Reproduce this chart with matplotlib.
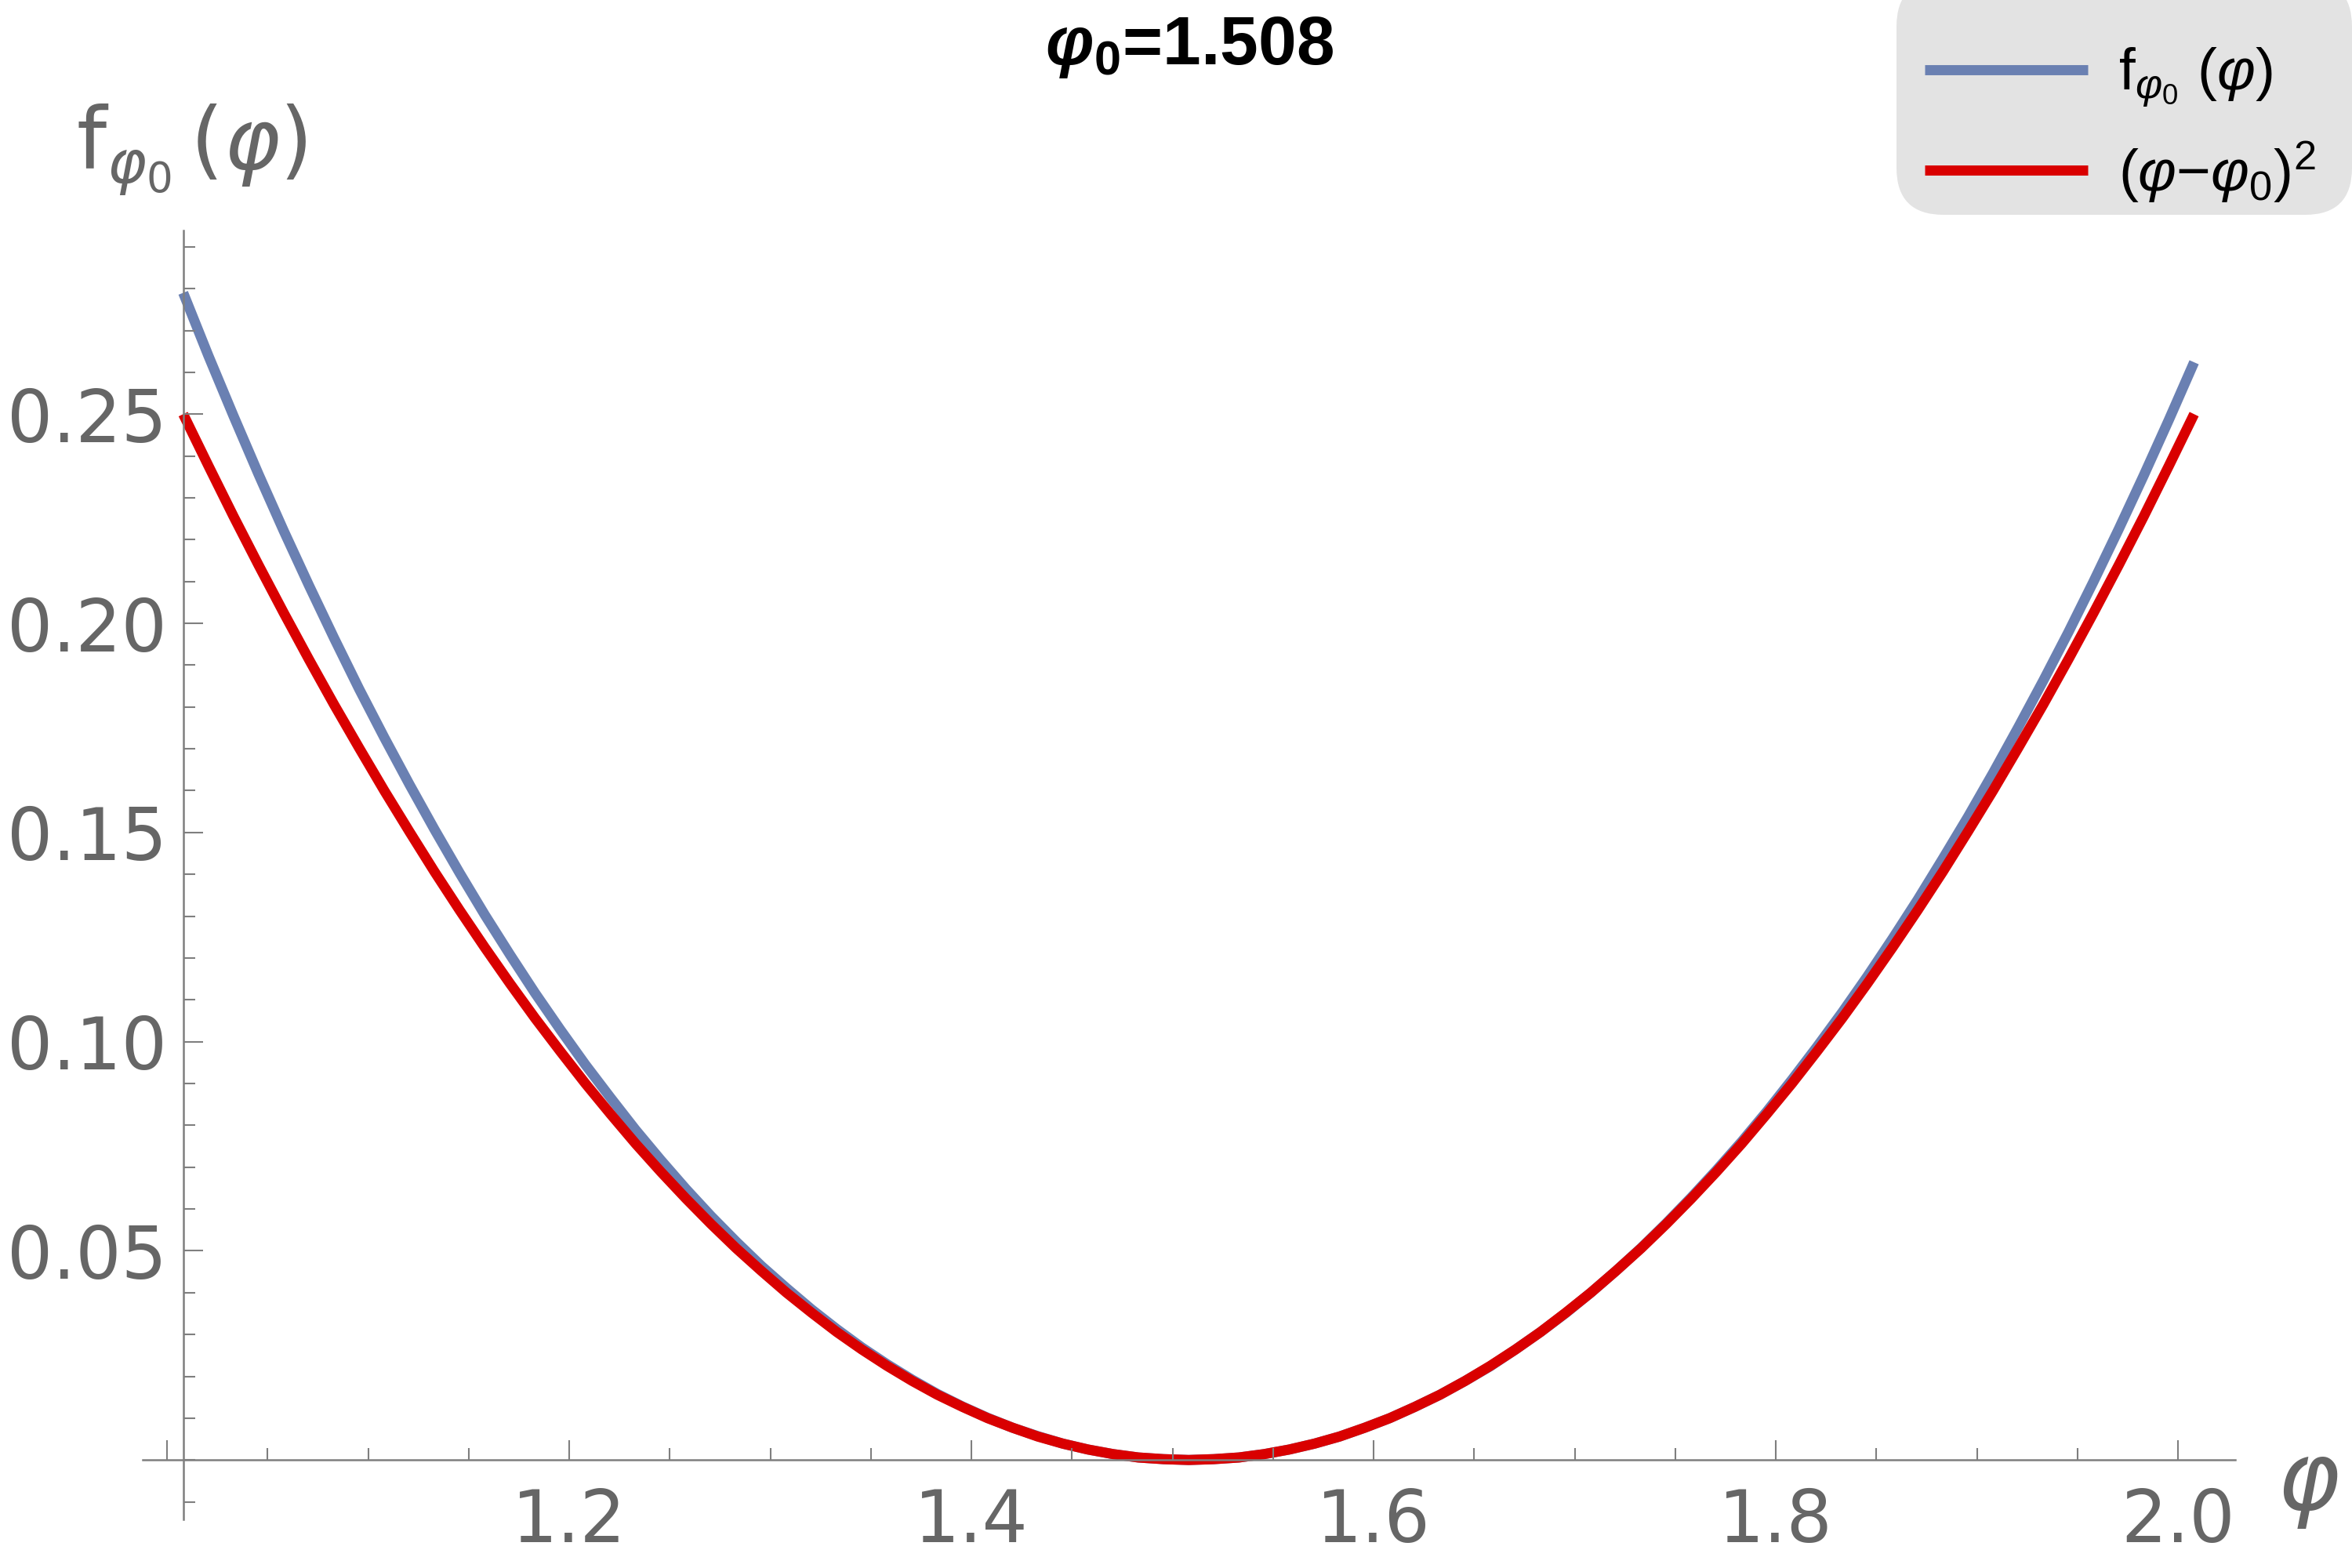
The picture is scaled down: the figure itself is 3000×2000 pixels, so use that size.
import matplotlib
matplotlib.use("Agg")
import matplotlib.pyplot as plt
from matplotlib.patches import FancyBboxPatch

plt.rcParams['mathtext.fontset'] = 'custom'
plt.rcParams['mathtext.rm'] = 'Liberation Sans'
plt.rcParams['mathtext.it'] = 'Liberation Sans:italic'
plt.rcParams['mathtext.bf'] = 'Liberation Sans:bold'
plt.rcParams['mathtext.bfit'] = 'Liberation Sans:italic:bold'

# values (step 0.0125 in phi)
phi0 = 1.508
phi = [round(1.008 + 0.0125 * i, 4) for i in range(81)]
f_phi = [0.2790, 0.2640, 0.2496, 0.2356, 0.2221, 0.2091, 0.1965, 0.1843, 0.1727, 0.1615,
         0.1507, 0.1403, 0.1303, 0.1208, 0.1116, 0.1029, 0.0945, 0.0866, 0.0789, 0.0717,
         0.0648, 0.0583, 0.0522, 0.0464, 0.0411, 0.0360, 0.0313, 0.0269, 0.0229, 0.0192,
         0.0158, 0.0128, 0.0101, 0.0077, 0.0057, 0.0039, 0.0025, 0.0014, 0.0006, 0.0002,
         0.0000, 0.0002, 0.0006, 0.0014, 0.0025, 0.0039, 0.0056, 0.0077, 0.0100, 0.0127,
         0.0156, 0.0189, 0.0224, 0.0264, 0.0306, 0.0351, 0.0400, 0.0452, 0.0507, 0.0566,
         0.0628, 0.0693, 0.0761, 0.0833, 0.0909, 0.0988, 0.1070, 0.1156, 0.1246, 0.1339,
         0.1437, 0.1537, 0.1642, 0.1751, 0.1863, 0.1979, 0.2100, 0.2225, 0.2354, 0.2487,
         0.2624]
sq_phi = [0.2500, 0.2377, 0.2256, 0.2139, 0.2025, 0.1914, 0.1806, 0.1702, 0.1600, 0.1502,
          0.1406, 0.1314, 0.1225, 0.1139, 0.1056, 0.0977, 0.0900, 0.0827, 0.0756, 0.0689,
          0.0625, 0.0564, 0.0506, 0.0452, 0.0400, 0.0352, 0.0306, 0.0264, 0.0225, 0.0189,
          0.0156, 0.0127, 0.0100, 0.0077, 0.0056, 0.0039, 0.0025, 0.0014, 0.0006, 0.0002,
          0.0000, 0.0002, 0.0006, 0.0014, 0.0025, 0.0039, 0.0056, 0.0077, 0.0100, 0.0127,
          0.0156, 0.0189, 0.0225, 0.0264, 0.0306, 0.0352, 0.0400, 0.0452, 0.0506, 0.0564,
          0.0625, 0.0689, 0.0756, 0.0827, 0.0900, 0.0977, 0.1056, 0.1139, 0.1225, 0.1314,
          0.1406, 0.1502, 0.1600, 0.1702, 0.1806, 0.1914, 0.2025, 0.2139, 0.2256, 0.2377,
          0.2500]

xMajor = [1.0, 1.2, 1.4, 1.6, 1.8, 2.0]
xLabels = ['', '1.2', '1.4', '1.6', '1.8', '2.0']
xMinor = [1.05, 1.1, 1.15, 1.25, 1.3, 1.35, 1.45, 1.5, 1.55, 1.65, 1.7, 1.75,
          1.85, 1.9, 1.95]
yMajor = [0.05, 0.10, 0.15, 0.20, 0.25]
yLabels = ['0.05', '0.10', '0.15', '0.20', '0.25']
yMinor = [i / 100 for i in range(-1, 30)]

blue = '#6a80b2'
red = '#d90000'
gray = '#666666'
axGray = '#7f7f7f'

fig = plt.figure(figsize=(10, 20 / 3), dpi=300)
ax = fig.add_axes([0.0607, 0.031, 0.8897, 0.822])

lB, = ax.plot(phi, f_phi, color=blue, lw=3.1, solid_capstyle='butt')
lR, = ax.plot(phi, sq_phi, color=red, lw=3.1, solid_capstyle='butt')

ax.set_xlim(0.9879, 2.0285)
ax.set_ylim(-0.0142, 0.2939)

    # Mathematica style axes crossing at (phi0 - 0.5, 0)
for s in ['top', 'right']:
    ax.spines[s].set_visible(False)
ax.spines['left'].set_position(('data', phi0 - 0.5))
ax.spines['bottom'].set_position(('data', 0))
for s in ['left', 'bottom']:
    ax.spines[s].set_color(axGray)
    ax.spines[s].set_linewidth(0.6)
ax.set_axisbelow(False)

ax.set_xticks(xMajor)
ax.set_xticklabels(xLabels)
ax.set_xticks(xMinor, minor=True)
ax.set_yticks(yMajor)
ax.set_yticklabels(yLabels)
ax.set_yticks(yMinor, minor=True)

ax.tick_params(which='both', direction='in', color=axGray, width=0.5,
               labelsize=22, labelcolor=gray)
ax.tick_params(which='major', length=6)
ax.tick_params(which='minor', length=3.6)
ax.tick_params(axis='x', which='major', pad=8)
ax.tick_params(axis='y', which='major', pad=5)
for t in ax.get_xticklabels() + ax.get_yticklabels():
    t.set_family('DejaVu Sans')

    # Axis labels
fig.text(97 / 3000, 1 - 215 / 2000, r'f$_{\varphi_0}\,$($\varphi$)', fontsize=26,
         color=gray, family='DejaVu Sans', math_fontfamily='dejavusans',
         ha='left', va='baseline')
fig.text(2944 / 3000, 1 - 1893 / 2000, r'$\varphi$', fontsize=29, color=gray,
         math_fontfamily='dejavusans', ha='center', va='center')

    # Title
fig.text(1517 / 3000, 1 - 82 / 2000, r'$\mathbfit{\varphi}_\mathbf{0}$=1.508',
         fontsize=21, fontweight='bold', family='Liberation Sans',
         ha='center', va='baseline')

    # Legend box
box = FancyBboxPatch((2419 / 300, (2000 - 274) / 300), 581 / 300, 300 / 300,
                     boxstyle='round,pad=0,rounding_size=0.2',
                     transform=fig.dpi_scale_trans, facecolor='#e3e3e3',
                     edgecolor='none', zorder=-1)
fig.patches.append(box)

leg = fig.legend([lB, lR], [r'f$_{\varphi_0}$ ($\varphi$)', r'$(\varphi{-}\varphi_0)^2$'],
                 loc='upper left', bbox_to_anchor=(2455 / 3000, 1 - 59 / 2000),
                 frameon=False, borderpad=0, borderaxespad=0,
                 handlelength=2.77, handletextpad=0.52, labelspacing=0.5,
                 prop={'family': 'Liberation Sans', 'size': 18})
leg.set_zorder(5)

fig.savefig('out.png', dpi=300)
